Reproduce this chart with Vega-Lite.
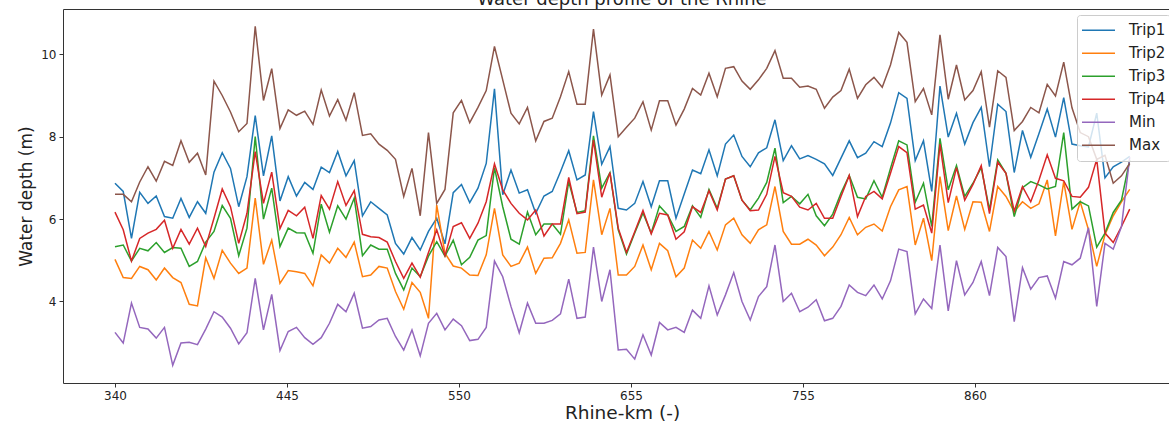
{
  "$schema": "https://vega.github.io/schema/vega-lite/v6.json",
  "width": 1106,
  "height": 374,
  "autosize": {"type": "none"},
  "padding": {"left": 63, "top": 9, "right": 0, "bottom": 38},
  "config": {
    "font": "DejaVu Sans",
    "view": {"stroke": "#333333", "strokeWidth": 1},
    "axis": {"grid": false, "domain": false, "labelFont": "DejaVu Sans", "titleFont": "DejaVu Sans", "labelColor": "#222222", "titleColor": "#222222", "tickColor": "#333333", "titleFontWeight": "normal"}
  },
  "title": {"text": "Water depth profile of the Rhine", "fontSize": 18, "fontWeight": "normal", "color": "#222222", "anchor": "middle", "baseline": "alphabetic", "offset": 0, "dy": 14, "dx": 6},
  "data": {"values": [
{"p":0,"Trip1":6.87,"Trip2":5.02,"Trip3":5.33,"Trip4":6.17,"Min":3.25,"Max":6.6},
{"p":1,"Trip1":6.67,"Trip2":4.58,"Trip3":5.37,"Trip4":5.74,"Min":2.99,"Max":6.6},
{"p":2,"Trip1":5.53,"Trip2":4.56,"Trip3":4.98,"Trip4":4.98,"Min":3.96,"Max":6.42},
{"p":3,"Trip1":6.65,"Trip2":4.85,"Trip3":5.29,"Trip4":5.53,"Min":3.37,"Max":6.9},
{"p":4,"Trip1":6.38,"Trip2":4.77,"Trip3":5.23,"Trip4":5.66,"Min":3.33,"Max":7.27},
{"p":5,"Trip1":6.56,"Trip2":4.52,"Trip3":5.43,"Trip4":5.75,"Min":3.11,"Max":6.92},
{"p":6,"Trip1":6.06,"Trip2":4.81,"Trip3":5.19,"Trip4":5.97,"Min":3.37,"Max":7.4},
{"p":7,"Trip1":6.02,"Trip2":4.58,"Trip3":5.31,"Trip4":5.29,"Min":2.45,"Max":7.3},
{"p":8,"Trip1":6.5,"Trip2":4.46,"Trip3":5.29,"Trip4":5.75,"Min":2.99,"Max":7.9},
{"p":9,"Trip1":6.04,"Trip2":3.93,"Trip3":4.85,"Trip4":5.39,"Min":3.01,"Max":7.38},
{"p":10,"Trip1":6.42,"Trip2":3.89,"Trip3":4.97,"Trip4":5.78,"Min":2.95,"Max":7.6},
{"p":11,"Trip1":6.14,"Trip2":5.06,"Trip3":5.44,"Trip4":5.33,"Min":3.33,"Max":7.07},
{"p":12,"Trip1":7.14,"Trip2":4.56,"Trip3":5.7,"Trip4":6.02,"Min":3.75,"Max":9.35},
{"p":13,"Trip1":7.61,"Trip2":5.24,"Trip3":6.33,"Trip4":6.73,"Min":3.62,"Max":9.0},
{"p":14,"Trip1":7.23,"Trip2":4.93,"Trip3":6.02,"Trip4":6.3,"Min":3.35,"Max":8.6},
{"p":15,"Trip1":6.3,"Trip2":4.68,"Trip3":5.11,"Trip4":5.41,"Min":2.97,"Max":8.12},
{"p":16,"Trip1":7.03,"Trip2":4.81,"Trip3":5.78,"Trip4":6.14,"Min":3.24,"Max":8.32},
{"p":17,"Trip1":8.51,"Trip2":6.51,"Trip3":8.0,"Trip4":7.64,"Min":4.56,"Max":10.68},
{"p":18,"Trip1":7.05,"Trip2":4.9,"Trip3":6.0,"Trip4":6.38,"Min":3.31,"Max":8.88},
{"p":19,"Trip1":8.02,"Trip2":5.49,"Trip3":6.75,"Trip4":7.14,"Min":4.17,"Max":9.65},
{"p":20,"Trip1":6.44,"Trip2":4.44,"Trip3":5.33,"Trip4":5.77,"Min":2.81,"Max":8.2},
{"p":21,"Trip1":7.03,"Trip2":4.75,"Trip3":5.78,"Trip4":6.21,"Min":3.27,"Max":8.65},
{"p":22,"Trip1":6.56,"Trip2":4.72,"Trip3":5.67,"Trip4":6.08,"Min":3.37,"Max":8.52},
{"p":23,"Trip1":6.89,"Trip2":4.68,"Trip3":5.66,"Trip4":6.29,"Min":3.12,"Max":8.62},
{"p":24,"Trip1":6.72,"Trip2":4.38,"Trip3":5.17,"Trip4":5.53,"Min":2.96,"Max":8.3},
{"p":25,"Trip1":7.26,"Trip2":5.13,"Trip3":6.36,"Trip4":6.57,"Min":3.12,"Max":9.13},
{"p":26,"Trip1":7.13,"Trip2":4.93,"Trip3":5.68,"Trip4":6.24,"Min":3.47,"Max":8.5},
{"p":27,"Trip1":7.64,"Trip2":5.29,"Trip3":6.32,"Trip4":6.91,"Min":3.93,"Max":8.9},
{"p":28,"Trip1":7.05,"Trip2":5.07,"Trip3":6.0,"Trip4":6.33,"Min":3.75,"Max":8.4},
{"p":29,"Trip1":7.42,"Trip2":5.44,"Trip3":6.51,"Trip4":6.69,"Min":4.2,"Max":9.07},
{"p":30,"Trip1":6.08,"Trip2":4.6,"Trip3":5.11,"Trip4":5.63,"Min":3.35,"Max":8.03},
{"p":31,"Trip1":6.42,"Trip2":4.64,"Trip3":5.37,"Trip4":5.57,"Min":3.39,"Max":8.07},
{"p":32,"Trip1":6.26,"Trip2":4.85,"Trip3":5.27,"Trip4":5.55,"Min":3.55,"Max":7.82},
{"p":33,"Trip1":6.1,"Trip2":4.81,"Trip3":5.27,"Trip4":5.44,"Min":3.59,"Max":7.67},
{"p":34,"Trip1":5.41,"Trip2":4.24,"Trip3":4.68,"Trip4":4.97,"Min":3.15,"Max":7.45},
{"p":35,"Trip1":5.15,"Trip2":3.81,"Trip3":4.28,"Trip4":4.56,"Min":2.82,"Max":6.55},
{"p":36,"Trip1":5.55,"Trip2":4.46,"Trip3":4.81,"Trip4":4.93,"Min":3.31,"Max":7.23},
{"p":37,"Trip1":5.25,"Trip2":4.22,"Trip3":4.6,"Trip4":4.59,"Min":2.68,"Max":6.08},
{"p":38,"Trip1":5.7,"Trip2":3.59,"Trip3":5.1,"Trip4":5.19,"Min":3.47,"Max":8.1},
{"p":39,"Trip1":6.02,"Trip2":6.34,"Trip3":5.45,"Trip4":5.74,"Min":3.71,"Max":6.38},
{"p":40,"Trip1":5.4,"Trip2":5.17,"Trip3":5.1,"Trip4":5.11,"Min":3.31,"Max":6.72},
{"p":41,"Trip1":6.64,"Trip2":4.86,"Trip3":5.49,"Trip4":5.82,"Min":3.57,"Max":8.58},
{"p":42,"Trip1":6.84,"Trip2":4.81,"Trip3":4.89,"Trip4":5.91,"Min":3.41,"Max":8.88},
{"p":43,"Trip1":6.4,"Trip2":4.64,"Trip3":5.07,"Trip4":5.53,"Min":3.05,"Max":8.34},
{"p":44,"Trip1":6.75,"Trip2":4.63,"Trip3":5.49,"Trip4":5.9,"Min":3.08,"Max":8.71},
{"p":45,"Trip1":7.35,"Trip2":5.13,"Trip3":5.6,"Trip4":6.42,"Min":3.37,"Max":9.12},
{"p":46,"Trip1":9.16,"Trip2":6.26,"Trip3":7.25,"Trip4":7.34,"Min":4.98,"Max":10.19},
{"p":47,"Trip1":6.59,"Trip2":5.13,"Trip3":6.3,"Trip4":6.71,"Min":4.6,"Max":9.38},
{"p":48,"Trip1":7.19,"Trip2":4.85,"Trip3":5.51,"Trip4":6.38,"Min":3.88,"Max":8.57},
{"p":49,"Trip1":6.63,"Trip2":4.93,"Trip3":5.39,"Trip4":6.14,"Min":3.24,"Max":8.31},
{"p":50,"Trip1":6.71,"Trip2":5.32,"Trip3":6.17,"Trip4":5.98,"Min":3.96,"Max":8.71},
{"p":51,"Trip1":6.14,"Trip2":4.68,"Trip3":5.62,"Trip4":6.22,"Min":3.47,"Max":7.9},
{"p":52,"Trip1":6.56,"Trip2":5.05,"Trip3":5.88,"Trip4":5.59,"Min":3.47,"Max":8.37},
{"p":53,"Trip1":6.67,"Trip2":5.06,"Trip3":5.88,"Trip4":5.88,"Min":3.54,"Max":8.45},
{"p":54,"Trip1":7.15,"Trip2":5.41,"Trip3":5.63,"Trip4":5.88,"Min":3.7,"Max":8.97},
{"p":55,"Trip1":7.66,"Trip2":5.98,"Trip3":6.91,"Trip4":7.01,"Min":4.54,"Max":9.58},
{"p":56,"Trip1":6.95,"Trip2":5.17,"Trip3":6.16,"Trip4":6.13,"Min":3.59,"Max":8.79},
{"p":57,"Trip1":7.07,"Trip2":5.19,"Trip3":6.2,"Trip4":6.17,"Min":3.62,"Max":8.79},
{"p":58,"Trip1":8.61,"Trip2":6.95,"Trip3":8.02,"Trip4":7.92,"Min":5.32,"Max":10.61},
{"p":59,"Trip1":7.33,"Trip2":5.62,"Trip3":6.75,"Trip4":6.53,"Min":4.0,"Max":9.01},
{"p":60,"Trip1":7.76,"Trip2":6.26,"Trip3":7.13,"Trip4":7.13,"Min":4.77,"Max":9.5},
{"p":61,"Trip1":6.26,"Trip2":4.64,"Trip3":5.74,"Trip4":5.78,"Min":2.82,"Max":8.0},
{"p":62,"Trip1":6.22,"Trip2":4.64,"Trip3":5.15,"Trip4":5.19,"Min":2.84,"Max":8.23},
{"p":63,"Trip1":6.38,"Trip2":4.85,"Trip3":5.66,"Trip4":5.69,"Min":2.6,"Max":8.45},
{"p":64,"Trip1":6.91,"Trip2":5.37,"Trip3":6.15,"Trip4":6.21,"Min":3.19,"Max":8.85},
{"p":65,"Trip1":6.3,"Trip2":4.77,"Trip3":5.66,"Trip4":5.64,"Min":2.7,"Max":8.16},
{"p":66,"Trip1":6.93,"Trip2":5.41,"Trip3":6.32,"Trip4":6.14,"Min":3.49,"Max":8.87},
{"p":67,"Trip1":6.93,"Trip2":5.23,"Trip3":6.1,"Trip4":6.1,"Min":3.31,"Max":8.87},
{"p":68,"Trip1":6.02,"Trip2":4.6,"Trip3":5.7,"Trip4":5.51,"Min":3.37,"Max":8.28},
{"p":69,"Trip1":6.61,"Trip2":4.81,"Trip3":5.82,"Trip4":5.69,"Min":3.25,"Max":8.67},
{"p":70,"Trip1":7.19,"Trip2":5.49,"Trip3":6.32,"Trip4":6.3,"Min":3.79,"Max":9.17},
{"p":71,"Trip1":7.1,"Trip2":5.29,"Trip3":6.04,"Trip4":6.16,"Min":3.59,"Max":9.01},
{"p":72,"Trip1":7.68,"Trip2":5.7,"Trip3":6.72,"Trip4":6.69,"Min":4.38,"Max":9.54},
{"p":73,"Trip1":7.05,"Trip2":5.25,"Trip3":6.26,"Trip4":6.22,"Min":3.67,"Max":8.97},
{"p":74,"Trip1":7.82,"Trip2":5.86,"Trip3":6.97,"Trip4":6.97,"Min":4.16,"Max":9.66},
{"p":75,"Trip1":8.04,"Trip2":6.02,"Trip3":7.05,"Trip4":7.05,"Min":4.7,"Max":9.7},
{"p":76,"Trip1":7.52,"Trip2":5.62,"Trip3":6.46,"Trip4":6.46,"Min":4.0,"Max":9.35},
{"p":77,"Trip1":7.27,"Trip2":5.41,"Trip3":6.22,"Trip4":6.2,"Min":3.55,"Max":9.15},
{"p":78,"Trip1":7.61,"Trip2":5.74,"Trip3":6.51,"Trip4":6.22,"Min":4.12,"Max":9.38},
{"p":79,"Trip1":7.73,"Trip2":5.86,"Trip3":6.89,"Trip4":6.6,"Min":4.36,"Max":9.66},
{"p":80,"Trip1":8.41,"Trip2":6.79,"Trip3":7.72,"Trip4":7.52,"Min":5.37,"Max":10.09},
{"p":81,"Trip1":7.42,"Trip2":5.7,"Trip3":6.4,"Trip4":6.64,"Min":4.0,"Max":9.42},
{"p":82,"Trip1":7.78,"Trip2":5.39,"Trip3":6.55,"Trip4":6.55,"Min":4.2,"Max":9.42},
{"p":83,"Trip1":7.46,"Trip2":5.39,"Trip3":6.37,"Trip4":6.29,"Min":3.75,"Max":9.2},
{"p":84,"Trip1":7.54,"Trip2":5.51,"Trip3":6.6,"Trip4":6.22,"Min":3.86,"Max":9.23},
{"p":85,"Trip1":7.45,"Trip2":5.37,"Trip3":6.08,"Trip4":6.38,"Min":4.04,"Max":9.15},
{"p":86,"Trip1":7.34,"Trip2":5.11,"Trip3":5.84,"Trip4":6.02,"Min":3.53,"Max":8.69},
{"p":87,"Trip1":7.06,"Trip2":5.32,"Trip3":6.12,"Trip4":6.02,"Min":3.59,"Max":8.96},
{"p":88,"Trip1":7.48,"Trip2":5.62,"Trip3":6.63,"Trip4":6.55,"Min":3.88,"Max":9.12},
{"p":89,"Trip1":7.9,"Trip2":6.04,"Trip3":7.06,"Trip4":7.06,"Min":4.4,"Max":9.64},
{"p":90,"Trip1":7.49,"Trip2":5.62,"Trip3":6.53,"Trip4":6.06,"Min":4.22,"Max":8.93},
{"p":91,"Trip1":7.6,"Trip2":5.8,"Trip3":6.49,"Trip4":6.55,"Min":4.14,"Max":9.26},
{"p":92,"Trip1":7.88,"Trip2":5.88,"Trip3":6.93,"Trip4":6.67,"Min":4.4,"Max":9.44},
{"p":93,"Trip1":7.76,"Trip2":5.71,"Trip3":6.53,"Trip4":6.49,"Min":4.06,"Max":9.2},
{"p":94,"Trip1":8.33,"Trip2":6.3,"Trip3":7.23,"Trip4":7.11,"Min":4.5,"Max":9.74},
{"p":95,"Trip1":9.07,"Trip2":6.71,"Trip3":7.9,"Trip4":7.76,"Min":5.27,"Max":10.53},
{"p":96,"Trip1":8.93,"Trip2":6.79,"Trip3":7.8,"Trip4":7.61,"Min":5.21,"Max":10.29},
{"p":97,"Trip1":7.42,"Trip2":5.37,"Trip3":6.41,"Trip4":6.24,"Min":3.7,"Max":8.85},
{"p":98,"Trip1":7.9,"Trip2":6.02,"Trip3":6.87,"Trip4":6.34,"Min":4.06,"Max":9.17},
{"p":99,"Trip1":6.67,"Trip2":4.99,"Trip3":5.82,"Trip4":5.66,"Min":3.83,"Max":8.53},
{"p":100,"Trip1":9.23,"Trip2":7.03,"Trip3":7.96,"Trip4":7.82,"Min":5.37,"Max":10.47},
{"p":101,"Trip1":7.99,"Trip2":5.72,"Trip3":6.71,"Trip4":6.4,"Min":3.77,"Max":8.91},
{"p":102,"Trip1":8.57,"Trip2":6.56,"Trip3":7.3,"Trip4":7.25,"Min":4.99,"Max":9.74},
{"p":103,"Trip1":7.82,"Trip2":5.75,"Trip3":6.55,"Trip4":6.46,"Min":4.16,"Max":8.89},
{"p":104,"Trip1":8.34,"Trip2":6.42,"Trip3":6.87,"Trip4":6.84,"Min":4.46,"Max":9.12},
{"p":105,"Trip1":8.71,"Trip2":6.41,"Trip3":7.25,"Trip4":7.3,"Min":4.97,"Max":9.58},
{"p":106,"Trip1":7.27,"Trip2":5.7,"Trip3":6.22,"Trip4":6.13,"Min":4.14,"Max":8.23},
{"p":107,"Trip1":8.79,"Trip2":6.79,"Trip3":7.44,"Trip4":7.38,"Min":5.31,"Max":9.6},
{"p":108,"Trip1":8.61,"Trip2":6.55,"Trip3":7.11,"Trip4":7.11,"Min":5.09,"Max":9.44},
{"p":109,"Trip1":7.13,"Trip2":6.18,"Trip3":6.06,"Trip4":6.19,"Min":3.51,"Max":8.15},
{"p":110,"Trip1":8.15,"Trip2":6.42,"Trip3":6.76,"Trip4":6.79,"Min":4.82,"Max":8.37},
{"p":111,"Trip1":7.5,"Trip2":6.26,"Trip3":6.91,"Trip4":6.42,"Min":4.3,"Max":8.71},
{"p":112,"Trip1":8.08,"Trip2":6.37,"Trip3":6.83,"Trip4":6.95,"Min":4.58,"Max":8.58},
{"p":113,"Trip1":8.67,"Trip2":6.95,"Trip3":6.73,"Trip4":7.56,"Min":4.62,"Max":9.27},
{"p":114,"Trip1":7.99,"Trip2":5.59,"Trip3":6.79,"Trip4":6.99,"Min":4.08,"Max":8.99},
{"p":115,"Trip1":8.95,"Trip2":6.91,"Trip3":8.1,"Trip4":6.93,"Min":4.97,"Max":9.81},
{"p":116,"Trip1":7.82,"Trip2":5.75,"Trip3":6.24,"Trip4":6.55,"Min":4.89,"Max":8.7},
{"p":117,"Trip1":7.78,"Trip2":6.42,"Trip3":6.42,"Trip4":6.53,"Min":5.05,"Max":8.1},
{"p":118,"Trip1":7.75,"Trip2":5.74,"Trip3":6.32,"Trip4":6.77,"Min":5.79,"Max":8.0},
{"p":119,"Trip1":8.57,"Trip2":4.85,"Trip3":5.32,"Trip4":7.45,"Min":3.88,"Max":7.45},
{"p":120,"Trip1":7.0,"Trip2":5.62,"Trip3":5.66,"Trip4":5.66,"Min":5.41,"Max":7.55},
{"p":121,"Trip1":7.27,"Trip2":6.08,"Trip3":6.16,"Trip4":5.43,"Min":5.27,"Max":6.87},
{"p":122,"Trip1":7.38,"Trip2":6.42,"Trip3":6.46,"Trip4":5.82,"Min":5.82,"Max":7.05},
{"p":123,"Trip1":7.52,"Trip2":6.72,"Trip3":7.44,"Trip4":6.24,"Min":7.5,"Max":7.35}
  ]},
  "transform": [{"fold": ["Trip1", "Trip2", "Trip3", "Trip4", "Min", "Max"], "as": ["series", "depth"]}],
  "mark": {"type": "line", "strokeWidth": 1.5},
  "encoding": {
    "x": {"field": "p", "type": "quantitative",
      "scale": {"domain": [-6.3, 127.76], "nice": false, "zero": false},
      "axis": {"values": [0, 20.85, 41.7, 62.55, 83.4, 104.25],
        "labelExpr": "datum.value < 10 ? '340' : datum.value < 30 ? '445' : datum.value < 50 ? '550' : datum.value < 70 ? '655' : datum.value < 90 ? '755' : '860'",
        "tickSize": 4, "labelPadding": 3, "labelFontSize": 12, "title": "Rhine-km (-)", "titleFontSize": 18.5, "titlePadding": 2, "titleX": 559}},
    "y": {"field": "depth", "type": "quantitative",
      "scale": {"domain": [2.02, 11.1], "nice": false, "zero": false},
      "axis": {"values": [4, 6, 8, 10], "tickSize": 4, "labelPadding": 3, "labelFontSize": 12, "title": "Water depth (m)", "titleFontSize": 17, "titlePadding": 5}},
    "color": {"field": "series", "type": "nominal",
      "scale": {"domain": ["Trip1", "Trip2", "Trip3", "Trip4", "Min", "Max"], "range": ["#1f77b4", "#ff7f0e", "#2ca02c", "#d62728", "#9467bd", "#8c564b"]},
      "legend": {"orient": "none", "legendX": 1014, "legendY": 6, "title": null, "symbolType": "stroke", "symbolSize": 1089, "symbolStrokeWidth": 1.5, "labelFontSize": 15, "labelAlign": "left", "labelColor": "#222222", "fillColor": "rgba(255,255,255,0.8)", "strokeColor": "#cccccc", "cornerRadius": 3, "padding": 4, "rowPadding": 0, "clipHeight": 22.6, "labelOffset": 13}}
  }
}
